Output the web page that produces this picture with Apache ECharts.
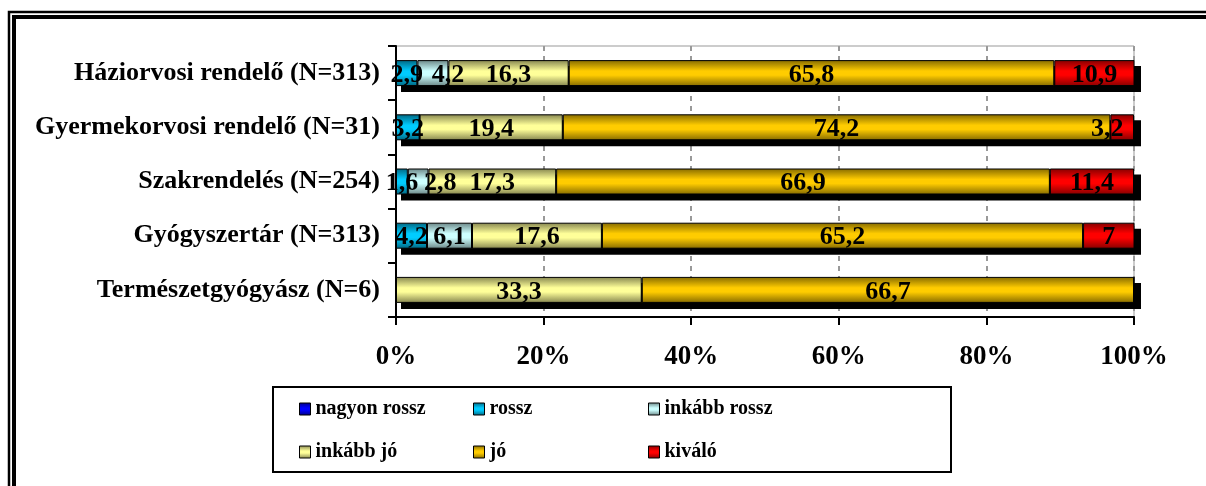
<!DOCTYPE html>
<html>
<head>
<meta charset="utf-8">
<script src="https://cdn.jsdelivr.net/npm/echarts@6/dist/echarts.min.js"></script>
<style>
html,body{margin:0;padding:0;background:#fff;}
#c{width:1206px;height:486px;}
</style>
</head>
<body>
<div id="c"></div>
<script>
const categories = [
  'Háziorvosi rendelő (N=313)',
  'Gyermekorvosi rendelő (N=31)',
  'Szakrendelés (N=254)',
  'Gyógyszertár (N=313)',
  'Természetgyógyász (N=6)'
];
const seriesNames = ['nagyon rossz', 'rossz', 'inkább rossz', 'inkább jó', 'jó', 'kiváló'];
const nagyonRossz = [0, 0, 0, 0, 0];
const rossz = [2.9, 3.2, 1.6, 4.2, 0];
const inkabbRossz = [4.2, 0, 2.8, 6.1, 0];
const inkabbJo = [16.3, 19.4, 17.3, 17.6, 33.3];
const jo = [65.8, 74.2, 66.9, 65.2, 66.7];
const kivalo = [10.9, 3.2, 11.4, 7, 0];
const xTickLabels = ['0%', '20%', '40%', '60%', '80%', '100%'];

const values = [nagyonRossz, rossz, inkabbRossz, inkabbJo, jo, kivalo];
const lightColors = ['#0000FF', '#00CCFF', '#CCFFFF', '#FFFF99', '#FFCC00', '#FF0000'];
const darkColors = ['#000080', '#006680', '#6A8585', '#85854F', '#856A00', '#850000'];

// label nudges (series index - category index -> x offset px), mimicking the reference's overlap avoidance
const labelNudge = {'2-0': 15, '2-2': 22, '5-1': -15};

const FONT = 'Liberation Serif';
const BAR_H = 26;

function grad(i) {
  return new echarts.graphic.LinearGradient(0, 0, 0, 1, [
    {offset: 0, color: darkColors[i]},
    {offset: 0.42, color: lightColors[i]},
    {offset: 0.58, color: lightColors[i]},
    {offset: 1, color: darkColors[i]}
  ]);
}

const totals = categories.map((c, j) => values.reduce((s, arr) => s + arr[j], 0));

const shadowSeries = {
  name: 'shadow',
  type: 'custom',
  z: 1,
  silent: true,
  data: totals.map((t, j) => [Math.min(t, 100), j]),
  encode: {x: 0, y: 1},
  renderItem: (params, api) => {
    const cat = api.value(1);
    const p0 = api.coord([0, cat]);
    const p1 = api.coord([api.value(0), cat]);
    return {
      type: 'rect',
      shape: {x: p0[0] + 5, y: p0[1] - BAR_H / 2 + 6, width: p1[0] - p0[0] + 2, height: BAR_H},
      style: {fill: '#000'}
    };
  }
};

const series = seriesNames.map((name, i) => ({
  name: name,
  type: 'bar',
  stack: 'total',
  barWidth: BAR_H,
  z: 2,
  data: values[i].map((v, j) => {
    const nud = labelNudge[i + '-' + j];
    return nud ? {value: v, label: {offset: [nud, 2]}} : v;
  }),
  itemStyle: {
    color: grad(i),
    borderColor: '#000',
    borderWidth: 1
  },
  label: {
    show: true,
    position: 'inside',
    offset: [0, 2],
    color: '#000',
    fontFamily: FONT,
    fontWeight: 'bold',
    fontSize: 26,
    formatter: p => p.value ? String(p.value).replace('.', ',') : ''
  },
  emphasis: {disabled: true}
}));

const legendPos = [
  [299, 399], [473, 399], [648, 399],
  [299, 442], [473, 442], [648, 442]
];
const legends = seriesNames.map((n, k) => ({
  data: [n],
  left: legendPos[k][0],
  top: legendPos[k][1],
  padding: 0,
  icon: 'rect',
  itemWidth: 11,
  itemHeight: 12,
  itemGap: 5,
  selectedMode: false,
  itemStyle: {borderColor: '#000', borderWidth: 1},
  textStyle: {fontFamily: FONT, fontWeight: 'bold', fontSize: 20, color: '#000'}
}));

const chart = echarts.init(document.getElementById('c'), null, {renderer: 'canvas'});
chart.setOption({
  animation: false,
  backgroundColor: '#fff',
  grid: {left: 396, right: 72, top: 46, bottom: 169, show: true, borderColor: '#999', borderWidth: 1},
  legend: legends,
  xAxis: {
    type: 'value',
    min: 0, max: 100, interval: 20,
    axisLine: {show: true, lineStyle: {color: '#000', width: 2}},
    axisTick: {show: true, length: 8, lineStyle: {color: '#000', width: 2}},
    splitLine: {show: true, lineStyle: {color: '#999', width: 2, type: [5, 5]}},
    axisLabel: {
      margin: 27,
      color: '#000', fontFamily: FONT, fontWeight: 'bold', fontSize: 27,
      formatter: v => xTickLabels[Math.round(v / 20)]
    }
  },
  yAxis: {
    type: 'category',
    inverse: true,
    data: categories,
    axisLine: {show: true, lineStyle: {color: '#000', width: 2}},
    axisTick: {show: true, length: 8, lineStyle: {color: '#000', width: 2}},
    axisLabel: {margin: 16, color: '#000', fontFamily: FONT, fontWeight: 'bold', fontSize: 26}
  },
  series: [shadowSeries].concat(series),
  graphic: [
    {type: 'rect', shape: {x: 9, y: 12, width: 1300, height: 600}, style: {fill: 'none', stroke: '#000', lineWidth: 2.5}, silent: true},
    {type: 'rect', shape: {x: 14, y: 17, width: 1300, height: 600}, style: {fill: 'none', stroke: '#000', lineWidth: 4}, silent: true},
    {type: 'rect', shape: {x: 273, y: 387, width: 678, height: 85}, style: {fill: 'none', stroke: '#000', lineWidth: 2}, silent: true}
  ]
});
</script>
</body>
</html>
